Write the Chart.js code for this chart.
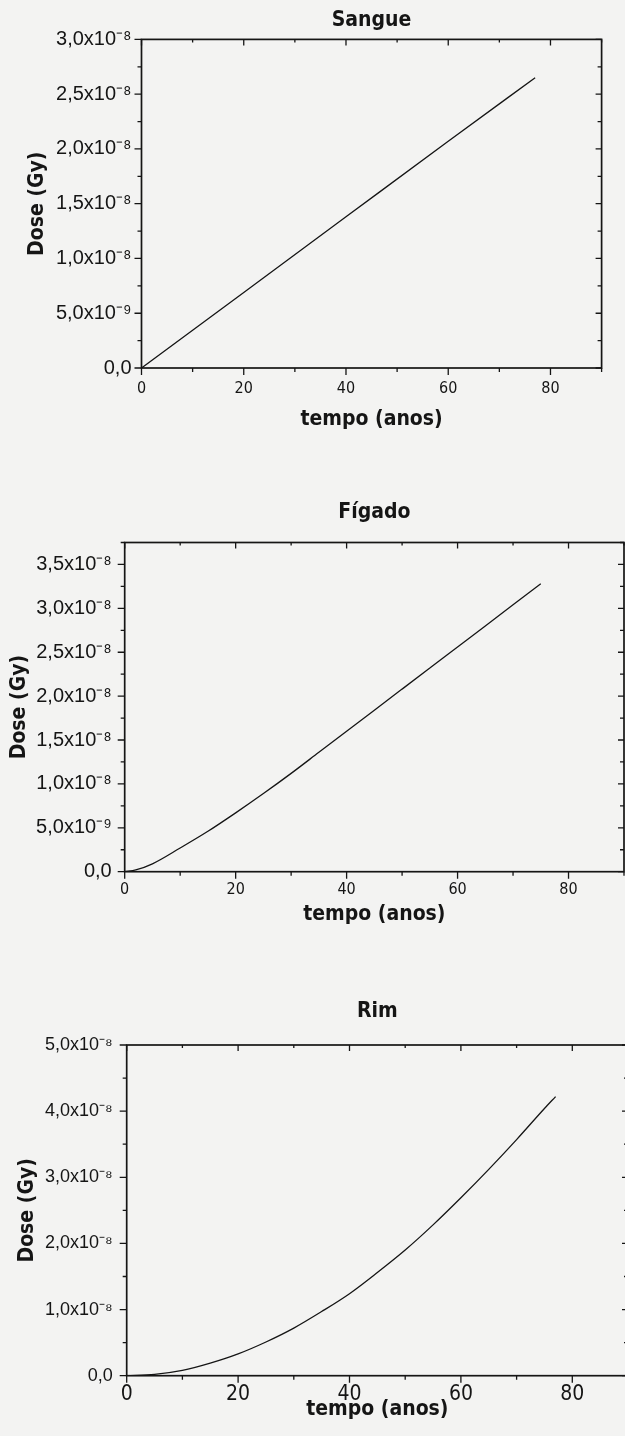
<!DOCTYPE html>
<html>
<head>
<meta charset="utf-8">
<script src="https://cdn.jsdelivr.net/npm/chart.js@4.4.1/dist/chart.umd.min.js"></script>
<style>
  html, body { margin: 0; padding: 0; background: #f3f3f2; width: 625px; height: 1436px; overflow: hidden; }
  canvas { position: absolute; left: 0; }
</style>
</head>
<body>
<canvas id="sangue" width="625" height="440" style="top:0px"></canvas>
<canvas id="figado" width="625" height="470" style="top:460px"></canvas>
<canvas id="rim" width="630" height="506" style="top:930px"></canvas>
<script>
// tempo (anos) e dose acumulada (Gy) por órgão
const sangueYears = [0, 20, 40, 60, 77];
const sangueDose = [0, 0.69e-8, 1.38e-8, 2.07e-8, 2.65e-8];

const figadoYears = [0, 2, 5, 10, 15, 20, 25, 30, 35, 40, 45, 50, 55, 60, 65, 70, 75];
const figadoDose = [0, 0.02e-8, 0.09e-8, 0.27e-8, 0.46e-8, 0.67e-8, 0.89e-8, 1.12e-8, 1.36e-8,
    1.60e-8, 1.84e-8, 2.08e-8, 2.32e-8, 2.56e-8, 2.80e-8, 3.04e-8, 3.28e-8];

const rimYears = [0, 5, 10, 15, 20, 25, 30, 35, 40, 45, 50, 55, 60, 65, 70, 75, 77];
const rimDose = [0, 0.02e-8, 0.08e-8, 0.19e-8, 0.33e-8, 0.51e-8, 0.72e-8, 0.97e-8, 1.24e-8,
    1.56e-8, 1.90e-8, 2.28e-8, 2.69e-8, 3.12e-8, 3.57e-8, 4.04e-8, 4.22e-8];

// eixo x comum
const xMax = 90;
const xStep = 20;

const NARROW = "'Liberation Sans Narrow', 'DejaVu Sans Condensed', 'Arial Narrow', sans-serif";
const REGULAR = "'Liberation Sans', Arial, sans-serif";
const INK = '#151515';

const SUP = { '-': '\u207B', '0': '\u2070', '1': '\u00B9', '2': '\u00B2', '3': '\u00B3', '4': '\u2074',
    '5': '\u2075', '6': '\u2076', '7': '\u2077', '8': '\u2078', '9': '\u2079' };

function sciLabel(v) {
    if (Math.abs(v) < 1e-15) return '0,0';
    const e = Math.floor(Math.log10(v) + 1e-9);
    const m = v / Math.pow(10, e);
    return m.toFixed(1).replace('.', ',') + 'x10' + String(e).split('').map(c => SUP[c]).join('');
}

function keepSteps(step) {
    return function (scale) {
        scale.ticks = scale.ticks.filter(t => {
            const k = t.value / step;
            return Math.abs(k - Math.round(k)) < 1e-6;
        });
    };
}

// moldura fechada com marcas principais e secundárias
const framePlugin = {
    id: 'frame',
    afterDraw(chart) {
        const { ctx, chartArea: a, scales: { x, y } } = chart;
        const minorsOf = (scale) => {
            const v = scale.ticks.map(t => t.value);
            const half = (v[1] - v[0]) / 2;
            const out = [];
            v.forEach(t => { if (t + half <= scale.max * (1 + 1e-9)) out.push(t + half); });
            return out;
        };
        const xs = x.ticks.map(t => t.value), ys = y.ticks.map(t => t.value);
        const xm = minorsOf(x), ym = minorsOf(y);

        ctx.save();
        ctx.strokeStyle = INK;
        ctx.lineWidth = 1.7;
        ctx.strokeRect(a.left, a.top, a.width, a.height);

        ctx.lineWidth = 1.3;
        ctx.beginPath();
        const seg = (x1, y1, x2, y2) => { ctx.moveTo(x1, y1); ctx.lineTo(x2, y2); };
        xs.forEach(v => {
            const px = x.getPixelForValue(v);
            seg(px, a.bottom, px, a.bottom + 7);
            seg(px, a.top, px, a.top + 6);
        });
        xm.forEach(v => {
            const px = x.getPixelForValue(v);
            seg(px, a.bottom, px, a.bottom + 4);
            seg(px, a.top, px, a.top + 3);
        });
        ys.forEach(v => {
            const py = y.getPixelForValue(v);
            seg(a.left - 7, py, a.left, py);
            seg(a.right - 6, py, a.right, py);
        });
        ym.forEach(v => {
            const py = y.getPixelForValue(v);
            seg(a.left - 4, py, a.left, py);
            seg(a.right - 4, py, a.right, py);
        });
        ctx.stroke();
        ctx.restore();
    }
};

function makeDoseChart(id, name, years, dose, o) {
    const el = document.getElementById(id);
    return new Chart(el, {
        type: 'line',
        data: {
            datasets: [{
                data: years.map((t, i) => ({ x: t, y: dose[i] })),
                borderColor: INK,
                borderWidth: 1.3,
                pointRadius: 0,
                tension: o.tension,
                cubicInterpolationMode: 'monotone',
                fill: false
            }]
        },
        options: {
            responsive: false,
            animation: false,
            devicePixelRatio: 1,
            layout: { padding: { top: o.padTop, right: o.padRight, bottom: 0, left: 0 } },
            plugins: {
                legend: { display: false },
                tooltip: { enabled: false },
                title: {
                    display: true,
                    text: name,
                    fullSize: false,
                    color: INK,
                    font: { family: NARROW, size: 21, weight: 'bold' },
                    padding: { top: o.titleTop, bottom: o.titleBottom }
                }
            },
            scales: {
                x: {
                    type: 'linear',
                    min: 0,
                    max: xMax,
                    grid: { display: false, drawTicks: false },
                    border: { display: false },
                    ticks: {
                        stepSize: xStep,
                        includeBounds: false,
                        color: INK,
                        padding: o.xTickPad,
                        maxRotation: 0,
                        font: { family: NARROW, size: o.xTickSize, lineHeight: 1 }
                    },
                    afterBuildTicks: keepSteps(xStep),
                    afterFit: s => { s.height = o.xHeight; },
                    title: {
                        display: true,
                        text: 'tempo (anos)',
                        color: INK,
                        font: { family: NARROW, size: 21, weight: 'bold' },
                        padding: { top: 0, bottom: o.xTitlePad }
                    }
                },
                y: {
                    type: 'linear',
                    min: 0,
                    max: o.yMax,
                    grid: { display: false, drawTicks: false },
                    border: { display: false },
                    ticks: {
                        stepSize: o.yStep,
                        includeBounds: false,
                        color: INK,
                        padding: o.yTickPad,
                        font: { family: REGULAR, size: o.yTickSize },
                        callback: v => sciLabel(v)
                    },
                    afterBuildTicks: keepSteps(o.yStep),
                    afterFit: s => { s.width = o.yWidth; },
                    title: {
                        display: true,
                        text: 'Dose (Gy)',
                        color: INK,
                        font: { family: NARROW, size: 21, weight: 'bold' },
                        padding: { top: o.yTitlePad, bottom: 0 }
                    }
                }
            }
        },
        plugins: [framePlugin]
    });
}

makeDoseChart('sangue', 'Sangue', sangueYears, sangueDose, {
    tension: 0, padTop: 0, padRight: 23.4, titleTop: 8, titleBottom: 6.2,
    yMax: 3.0e-8, yStep: 0.5e-8, yWidth: 141.5, yTickPad: 10, yTickSize: 20, yTitlePad: 25,
    xHeight: 72, xTickPad: 13, xTickSize: 16, xTitlePad: 8
});

makeDoseChart('figado', 'Fígado', figadoYears, figadoDose, {
    tension: 0.4, padTop: 0, padRight: 1, titleTop: 40.4, titleBottom: 16.9,
    yMax: 3.75e-8, yStep: 0.5e-8, yWidth: 124.7, yTickPad: 13, yTickSize: 20, yTitlePad: 7,
    xHeight: 58.3, xTickPad: 10, xTickSize: 16, xTitlePad: 2.4
});

makeDoseChart('rim', 'Rim', rimYears, rimDose, {
    tension: 0.4, padTop: 0, padRight: 2, titleTop: 69.1, titleBottom: 20.7,
    yMax: 5.0e-8, yStep: 1.0e-8, yWidth: 126.7, yTickPad: 14, yTickSize: 18, yTitlePad: 15,
    xHeight: 60.3, xTickPad: 8, xTickSize: 21, xTitlePad: 13.4
});
</script>
</body>
</html>
